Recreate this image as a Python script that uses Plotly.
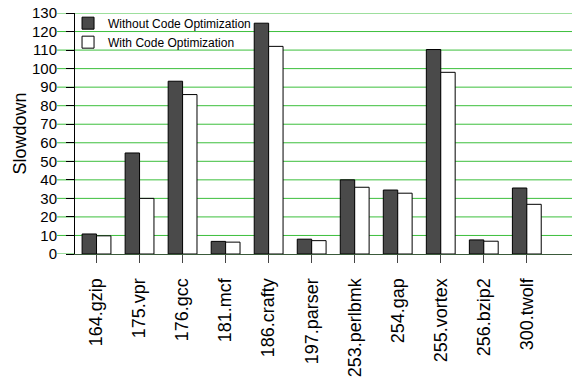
import plotly.graph_objects as go

benchmarks = ["164.gzip", "175.vpr", "176.gcc", "181.mcf", "186.crafty", "197.parser",
              "253.perlbmk", "254.gap", "255.vortex", "256.bzip2", "300.twolf"]
without_opt = [10.8, 54.5, 93.2, 6.8, 124.5, 8.0, 40.0, 34.5, 110.3, 7.6, 35.6]
with_opt = [9.8, 30.0, 86.0, 6.4, 112.0, 7.2, 36.0, 32.8, 98.0, 6.9, 26.8]
y_ticks = list(range(0, 131, 10))

FONT = "Liberation Sans, Arial, sans-serif"

fig = go.Figure()
fig.add_trace(go.Bar(
    x=benchmarks, y=without_opt, name="Without Code Optimization",
    marker=dict(color="#4a4a4a", line=dict(color="black", width=1)),
))
fig.add_trace(go.Bar(
    x=benchmarks, y=with_opt, name="With Code Optimization",
    marker=dict(color="white", line=dict(color="black", width=1)),
))

shapes = []
for v in y_ticks[1:]:
    shapes.append(dict(type="line", xref="paper", yref="y", x0=-0.036, x1=1, y0=v, y1=v,
                       line=dict(color="#3cbf3c", width=1), layer="below"))
shapes.append(dict(type="line", xref="paper", yref="y", x0=-0.036, x1=0, y0=0, y1=0,
                   line=dict(color="#3cbf3c", width=1), layer="below"))

fig.update_layout(
    width=572, height=381,
    margin=dict(l=75, r=0, t=13, b=127, autoexpand=False),
    paper_bgcolor="white", plot_bgcolor="white",
    barmode="group", bargap=0.33, bargroupgap=0,
    font=dict(family=FONT, color="black"),
    showlegend=True,
    legend=dict(x=-0.014, y=1.018, xanchor="left", yanchor="top",
                bgcolor="rgba(0,0,0,0)", font=dict(size=12, family=FONT),
                traceorder="normal", tracegroupgap=0),
    shapes=shapes,
    xaxis=dict(
        type="category", range=[-0.5, 11.05],
        showline=True, linecolor="#3a5a3a", linewidth=1,
        ticks="outside", ticklen=8, tickcolor="#444444",
        tickangle=-90, tickfont=dict(size=18, family=FONT), ticklabelstandoff=8,
        showgrid=False, zeroline=False,
    ),
    yaxis=dict(
        range=[0, 130], tickvals=y_ticks,
        showline=True, linecolor="black", linewidth=1,
        ticks="outside", ticklen=8, tickcolor="black",
        tickfont=dict(size=15, family=FONT), ticklabelstandoff=6,
        showgrid=False, zeroline=False,
        title=dict(text="Slowdown", font=dict(size=18, family=FONT), standoff=0),
    ),
)

fig.write_html("out.html")
